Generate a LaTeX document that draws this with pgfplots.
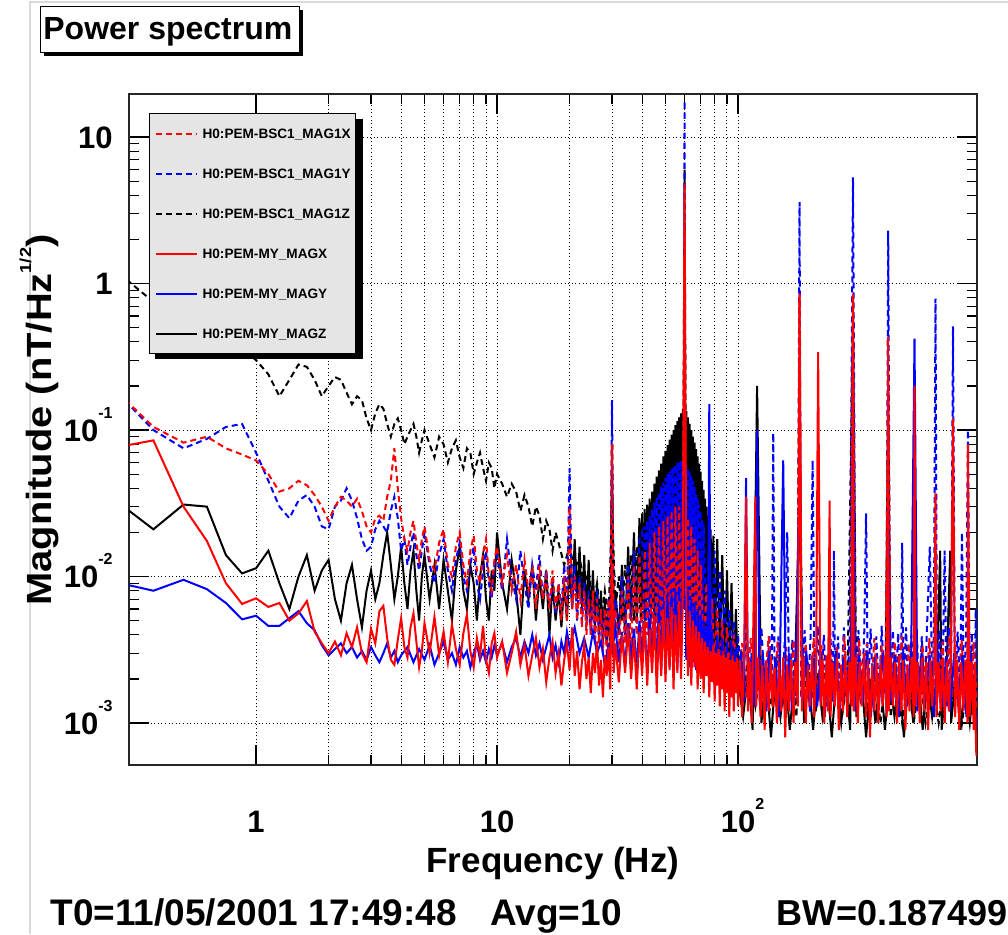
\documentclass[border=0pt]{standalone}
\usepackage{fontspec}
\setmainfont{Liberation Sans}
\usepackage{graphicx}
\usepackage{pgfplots}
\pgfplotsset{compat=1.18}
\usetikzlibrary{shadows}
\newcommand{\sps}[1]{\raisebox{11.5pt}{\fontsize{8}{8}\selectfont #1}}
\begin{document}
\begin{tikzpicture}
\draw[black!15, line width=1.2pt] (15pt,0) -- (15pt,466pt) -- (504pt,466pt);
\node[draw=black, line width=0.7pt, fill=white, drop shadow={shadow xshift=1.6pt, shadow yshift=-1.6pt, fill=black, opacity=1}, minimum width=129.5pt, minimum height=23pt, inner sep=0pt, anchor=north west] at (20pt,464pt) {};
\node[anchor=base west, inner sep=0pt, font=\fontsize{16}{16}\selectfont\bfseries] at (21.5pt,447pt) {Power spectrum};
\begin{axis}[
 at={(64.5pt,84.5pt)}, anchor=south west,
 scale only axis, width=424pt, height=335.5pt,
 xmode=log, ymode=log,
 xmin=0.297, xmax=981, ymin=5.17e-4, ymax=19.66,
 xtick={1,10,100}, xticklabels={1,10,{10\rlap{\sps{2}}}},
 ytick={0.001,0.01,0.1,1,10}, yticklabels={{10\sps{-3}},{10\sps{-2}},{10\sps{-1}},1,10},
 tick align=inside, major tick length=10pt, minor tick length=5pt,
 xmajorgrids, xminorgrids, ymajorgrids,
 grid style={black, line width=0.5pt, dash pattern=on 0.5pt off 1.3pt},
 minor grid style={black, line width=0.5pt, dash pattern=on 0.5pt off 1.3pt},
 axis line style={black!85, line width=0.8pt},
 every tick/.style={black, line width=0.6pt},
 ticklabel style={font=\fontsize{15.5}{15.5}\selectfont\bfseries, inner sep=0pt},
 xticklabel style={anchor=base, yshift=-33.5pt},
 yticklabel style={anchor=east, xshift=-8pt, text height=11pt, text depth=0pt},
 xlabel={Frequency (Hz)},
 ylabel={\scalebox{1.14}[1]{Magnitude (nT/Hz\raisebox{10pt}{\fontsize{8}{8}\selectfont 1/2})}},
 label style={font=\fontsize{17.5}{17.5}\selectfont\bfseries},
 xlabel style={at={(axis description cs:0.5,0)}, anchor=base, yshift=-53.5pt},
 ylabel style={at={(axis description cs:-0.0919,0.514)}, anchor=base},
 legend style={at={(axis description cs:0.0236,0.9717)}, anchor=north west,
  fill=black!10, draw=black, line width=0.6pt,
  font=\fontsize{6.8}{6.8}\selectfont\bfseries,
  inner xsep=2.5pt, inner ysep=0pt, row sep=0pt,
  nodes={inner sep=0pt, text height=12.5pt, text depth=7.5pt},
  /tikz/every odd column/.append style={column sep=2.5pt}},
 legend cell align=left,
 legend image code/.code={\draw[#1] (0pt,0pt) -- (20.5pt,0pt);},
 dsh/.style={line width=1pt, dash pattern=on 3pt off 2pt},
 sld/.style={line width=1pt},
]
\addlegendimage{red, dsh}\addlegendentry{H0:PEM-BSC1\_MAG1X}
\addlegendimage{blue, dsh}\addlegendentry{H0:PEM-BSC1\_MAG1Y}
\addlegendimage{black, dsh}\addlegendentry{H0:PEM-BSC1\_MAG1Z}
\addlegendimage{red, sld}\addlegendentry{H0:PEM-MY\_MAGX}
\addlegendimage{blue, sld}\addlegendentry{H0:PEM-MY\_MAGY}
\addlegendimage{black, sld}\addlegendentry{H0:PEM-MY\_MAGZ}
% black dashed: BSC1 MAG1Z
\addplot[black, dsh, forget plot] coordinates {(0.25,1.3)(0.375,0.75)(0.5,0.55)(0.625,0.5)(0.75,0.42)(0.875,0.36)(1,0.3)(1.125,0.24)(1.25,0.17)(1.375,0.22)(1.5,0.28)(1.625,0.27)(1.75,0.22)(1.875,0.17)(2,0.2)(2.125,0.23)(2.25,0.22)(2.375,0.18)(2.5,0.15)(2.625,0.17)(2.75,0.16)(2.875,0.12)(3,0.1)(3.125,0.13)(3.25,0.15)(3.375,0.14)(3.5,0.11)(3.625,0.09)(3.75,0.11)(3.875,0.12)(4,0.1)(4.125,0.08)(4.25,0.09)(4.375,0.1)(4.5,0.11)(4.625,0.09)(4.75,0.07)(4.875,0.085)(5,0.1)(5.25,0.08)(5.5,0.065)(5.75,0.09)(6,0.08)(6.25,0.06)(6.5,0.075)(6.75,0.085)(7,0.065)(7.25,0.055)(7.5,0.075)(7.75,0.07)(8,0.05)(8.25,0.06)(8.5,0.07)(8.75,0.055)(9,0.045)(9.25,0.06)(9.5,0.055)(9.75,0.04)(10,0.05)(10.5,0.043)(11,0.035)(11.5,0.043)(12,0.038)(12.5,0.028)(13,0.036)(13.5,0.03)(14,0.022)(14.5,0.03)(15,0.026)(15.5,0.018)(16,0.024)(16.5,0.021)(17,0.015)(17.5,0.02)(18,0.017)(19,0.012)(20,0.016)(21,0.011)(22,0.014)(23,0.008)(24,0.011)(25,0.006)(26,0.009)(27,0.005)(28,0.008)(29,0.005)(30,0.03)(31,0.006)(32,0.01)(33,0.005)(34,0.012)(35,0.006)(36,0.014)(37,0.005)(38,0.016)(39,0.006)(40,0.018)(41,0.005)(42,0.02)(43,0.006)(44,0.022)(45,0.005)(46,0.025)(47,0.006)(48,0.028)(49,0.005)(50,0.03)(51,0.006)(52,0.032)(53,0.005)(54,0.035)(55,0.006)(56,0.038)(57,0.005)(58,0.04)(59,0.008)(60,6)(61,0.008)(62,0.04)(63,0.005)(64,0.035)(65,0.006)(66,0.03)(67,0.005)(68,0.025)(69,0.005)(70,0.02)(72,0.004)(74,0.016)(76,0.004)(78,0.012)(80,0.003)(83,0.008)(86,0.003)(89,0.006)(92,0.0025)(95,0.004)(98,0.002)(100,0.003)(105,0.0015)(110,0.0028)(118,0.0013)(125,0.0025)(135,0.0012)(145,0.0026)(155,0.0014)(165,0.0024)(175,0.0011)(180,0.3)(185,0.0013)(195,0.0025)(210,0.0012)(225,0.0024)(240,0.0012)(255,0.0023)(270,0.0011)(285,0.0022)(300,0.6)(310,0.0012)(330,0.0023)(350,0.0011)(370,0.0022)(390,0.001)(410,0.0021)(420,0.2)(430,0.0011)(450,0.0022)(480,0.001)(510,0.002)(540,0.0011)(570,0.0021)(600,0.001)(640,0.002)(680,0.001)(720,0.0021)(760,0.0012)(800,0.002)(850,0.001)(900,0.002)(950,0.0011)(985,0.0015)};
% black solid: MY MAGZ
\addplot[black, sld, forget plot] coordinates {(0.25,0.035)(0.375,0.021)(0.5,0.031)(0.625,0.03)(0.75,0.014)(0.875,0.0105)(1,0.0114)(1.125,0.015)(1.25,0.009)(1.375,0.006)(1.5,0.01)(1.625,0.014)(1.75,0.008)(1.875,0.011)(2,0.013)(2.125,0.007)(2.25,0.005)(2.375,0.009)(2.5,0.012)(2.625,0.007)(2.75,0.0045)(2.875,0.008)(3,0.011)(3.125,0.007)(3.25,0.009)(3.375,0.014)(3.5,0.02)(3.625,0.012)(3.75,0.007)(3.875,0.01)(4,0.016)(4.125,0.009)(4.25,0.006)(4.375,0.011)(4.5,0.015)(4.625,0.008)(4.75,0.005)(4.875,0.01)(5,0.014)(5.25,0.007)(5.5,0.012)(5.75,0.006)(6,0.013)(6.25,0.008)(6.5,0.005)(6.75,0.011)(7,0.016)(7.25,0.008)(7.5,0.006)(7.75,0.012)(8,0.009)(8.25,0.005)(8.5,0.01)(8.75,0.014)(9,0.007)(9.25,0.005)(9.5,0.011)(9.75,0.008)(10,0.02)(10.5,0.009)(11,0.006)(11.5,0.013)(12,0.008)(12.5,0.004)(13,0.011)(13.5,0.007)(14,0.012)(14.5,0.005)(15,0.01)(15.5,0.006)(16,0.011)(16.5,0.004)(17,0.009)(17.5,0.005)(18,0.008)(18.5,0.0045)(19,0.009)(19.5,0.005)(20,0.012)(20.5,0.006)(21,0.018)(21.5,0.007)(22,0.016)(22.5,0.006)(23,0.014)(23.5,0.005)(24,0.013)(24.5,0.005)(25,0.011)(25.5,0.0045)(26,0.009)(26.5,0.004)(27,0.008)(27.5,0.0035)(28,0.007)(28.5,0.0035)(29,0.006)(29.5,0.003)(30,0.08)(30.5,0.004)(31,0.008)(32,0.004)(33,0.012)(34,0.004)(35,0.016)(36,0.005)(37,0.02)(38,0.005)(39,0.025)(39.5,0.005)(40,0.027)(40.5,0.006)(41,0.029)(41.5,0.005)(42,0.031)(42.5,0.007)(43,0.034)(43.5,0.005)(44,0.038)(44.5,0.006)(45,0.043)(45.5,0.005)(46,0.048)(46.5,0.007)(47,0.053)(47.5,0.005)(48,0.059)(48.5,0.006)(49,0.066)(49.5,0.005)(50,0.072)(50.5,0.007)(51,0.079)(51.5,0.005)(52,0.086)(52.5,0.006)(53,0.093)(53.5,0.004)(54,0.1)(54.5,0.006)(55,0.108)(55.5,0.005)(56,0.115)(56.5,0.007)(57,0.122)(57.5,0.005)(58,0.13)(58.5,0.006)(59,0.14)(59.5,0.01)(60,0.15)(60.5,0.01)(61,0.135)(61.5,0.005)(62,0.122)(62.5,0.006)(63,0.11)(63.5,0.004)(64,0.1)(64.5,0.006)(65,0.09)(65.5,0.005)(66,0.082)(66.5,0.006)(67,0.074)(67.5,0.004)(68,0.066)(68.5,0.005)(69,0.059)(69.5,0.004)(70,0.052)(70.5,0.005)(71,0.045)(71.5,0.004)(72,0.039)(72.5,0.004)(73,0.034)(73.5,0.003)(74,0.03)(74.5,0.004)(75,0.026)(75.5,0.003)(76,0.024)(76.5,0.003)(77,0.021)(78,0.003)(79,0.019)(80,0.003)(82,0.018)(84,0.003)(86,0.014)(88,0.0025)(90,0.011)(92,0.0025)(94,0.009)(96,0.002)(98,0.006)(100,0.002)(105,0.0011)(110,0.0022)(115,0.0009)(120,0.2)(125,0.001)(131,0.0021)(137,0.0008)(143,0.002)(150,0.0011)(157,0.0022)(164,0.0009)(172,0.0021)(180,0.03)(188,0.001)(196,0.002)(205,0.0009)(214,0.0022)(224,0.0011)(234,0.0019)(245,0.0008)(256,0.0021)(268,0.001)(280,0.002)(292,0.0009)(300,0.03)(310,0.0011)(325,0.0021)(340,0.0008)(356,0.002)(372,0.001)(389,0.0022)(407,0.0009)(426,0.002)(446,0.0011)(466,0.0021)(488,0.0008)(510,0.002)(534,0.001)(558,0.0022)(584,0.0009)(611,0.002)(639,0.0011)(668,0.0021)(690,0.015)(700,0.0009)(732,0.002)(760,0.015)(766,0.001)(801,0.0021)(838,0.0009)(876,0.002)(916,0.001)(958,0.0021)(985,0.0012)};
% blue dashed: BSC1 MAG1Y
\addplot[blue, dsh, forget plot] coordinates {(0.25,0.2)(0.375,0.1)(0.5,0.075)(0.625,0.087)(0.75,0.105)(0.875,0.11)(1,0.07)(1.125,0.045)(1.25,0.03)(1.375,0.025)(1.5,0.033)(1.625,0.036)(1.75,0.03)(1.875,0.022)(2,0.021)(2.125,0.03)(2.25,0.033)(2.375,0.04)(2.5,0.033)(2.625,0.025)(2.75,0.018)(2.875,0.015)(3,0.016)(3.125,0.021)(3.25,0.024)(3.375,0.022)(3.5,0.02)(3.625,0.028)(3.75,0.035)(3.875,0.025)(4,0.015)(4.125,0.018)(4.25,0.012)(4.375,0.016)(4.5,0.02)(4.625,0.014)(4.75,0.011)(4.875,0.015)(5,0.02)(5.25,0.012)(5.5,0.009)(5.75,0.014)(6,0.018)(6.25,0.011)(6.5,0.008)(6.75,0.013)(7,0.017)(7.25,0.01)(7.5,0.008)(7.75,0.012)(8,0.016)(8.25,0.009)(8.5,0.007)(8.75,0.011)(9,0.015)(9.25,0.009)(9.5,0.007)(9.75,0.012)(10,0.014)(10.5,0.008)(11,0.018)(11.5,0.01)(12,0.007)(12.5,0.015)(13,0.009)(13.5,0.006)(14,0.012)(14.5,0.008)(15,0.014)(15.5,0.007)(16,0.011)(16.5,0.006)(17,0.01)(17.5,0.0055)(18,0.009)(18.5,0.006)(19,0.012)(19.5,0.006)(20,0.055)(20.5,0.006)(21,0.012)(21.5,0.005)(22,0.01)(22.5,0.005)(23,0.009)(23.5,0.0045)(24,0.008)(24.5,0.004)(25,0.007)(25.5,0.004)(26,0.008)(26.5,0.0035)(27,0.006)(27.5,0.0035)(28,0.006)(28.5,0.0035)(29,0.007)(29.5,0.004)(30,0.16)(30.5,0.004)(31,0.007)(32,0.004)(33,0.01)(34,0.004)(35,0.012)(36,0.005)(37,0.015)(38,0.004)(39,0.018)(40,0.02)(40.5,0.004)(41,0.022)(41.5,0.005)(42,0.024)(42.5,0.004)(43,0.026)(43.5,0.005)(44,0.029)(44.5,0.004)(45,0.032)(45.5,0.005)(46,0.035)(46.5,0.004)(47,0.038)(47.5,0.005)(48,0.041)(48.5,0.004)(49,0.044)(49.5,0.005)(50,0.047)(50.5,0.004)(51,0.05)(51.5,0.005)(52,0.052)(52.5,0.004)(53,0.054)(53.5,0.005)(54,0.056)(54.5,0.004)(55,0.058)(55.5,0.005)(56,0.06)(56.5,0.004)(57,0.061)(57.5,0.005)(58,0.062)(58.5,0.004)(59,0.06)(59.5,0.006)(60,17.7)(60.5,0.006)(61,0.058)(61.5,0.004)(62,0.055)(62.5,0.005)(63,0.052)(63.5,0.004)(64,0.048)(64.5,0.005)(65,0.045)(65.5,0.004)(66,0.041)(66.5,0.005)(67,0.037)(67.5,0.004)(68,0.034)(68.5,0.005)(69,0.031)(69.5,0.004)(70,0.028)(70.5,0.004)(71,0.025)(71.5,0.004)(72,0.023)(74,0.004)(76,0.02)(78,0.0035)(80,0.015)(82,0.003)(84,0.011)(86,0.003)(88,0.008)(90,0.0028)(92,0.006)(94,0.0025)(96,0.005)(98,0.0022)(100,0.004)(104,0.0016)(108,0.0042)(112,0.0015)(116,0.0038)(120,0.0017)(125,0.0045)(130,0.0014)(135,0.004)(138,0.0016)(140,0.095)(142,0.0015)(147,0.0039)(152,0.0013)(157,0.0044)(160,0.02)(163,0.0016)(168,0.0037)(173,0.0014)(177,0.0041)(180,3.6)(183,0.0015)(189,0.0043)(195,0.0016)(200,0.0038)(204,0.062)(208,0.0014)(214,0.0046)(220,0.0015)(227,0.004)(234,0.0013)(241,0.0044)(248,0.0016)(250,0.015)(253,0.0015)(260,0.0039)(267,0.0014)(275,0.0045)(283,0.0016)(291,0.004)(300,5.3)(308,0.0015)(316,0.0043)(325,0.0013)(334,0.0041)(340,0.027)(346,0.0016)(355,0.0044)(365,0.0014)(375,0.0039)(385,0.0015)(395,0.0046)(405,0.0016)(413,0.004)(420,2.3)(428,0.0014)(439,0.0043)(450,0.0015)(462,0.0041)(474,0.0013)(480,0.017)(486,0.0016)(498,0.0045)(511,0.0014)(524,0.004)(537,0.0016)(551,0.0044)(565,0.0015)(579,0.0039)(594,0.0013)(609,0.0047)(625,0.016)(641,0.0015)(650,0.0042)(660,0.79)(670,0.0014)(687,0.0043)(705,0.0016)(720,0.015)(735,0.0013)(750,0.0045)(765,0.0015)(780,0.51)(795,0.0014)(815,0.0042)(835,0.0016)(850,0.02)(865,0.0013)(885,0.0044)(900,0.1)(915,0.0015)(935,0.0041)(955,0.0012)(970,0.006)(985,0.0011)};
% red dashed: BSC1 MAG1X
\addplot[red, dsh, forget plot] coordinates {(0.25,0.2)(0.375,0.105)(0.5,0.082)(0.625,0.09)(0.75,0.075)(0.875,0.068)(1,0.062)(1.125,0.05)(1.25,0.038)(1.375,0.04)(1.5,0.045)(1.625,0.042)(1.75,0.036)(1.875,0.03)(2,0.024)(2.125,0.03)(2.25,0.035)(2.375,0.033)(2.5,0.03)(2.625,0.034)(2.75,0.028)(2.875,0.022)(3,0.02)(3.125,0.025)(3.25,0.026)(3.375,0.024)(3.5,0.035)(3.625,0.045)(3.75,0.075)(3.875,0.04)(4,0.025)(4.125,0.018)(4.25,0.015)(4.375,0.02)(4.5,0.024)(4.625,0.017)(4.75,0.013)(4.875,0.018)(5,0.022)(5.25,0.013)(5.5,0.011)(5.75,0.017)(6,0.021)(6.25,0.012)(6.5,0.01)(6.75,0.016)(7,0.02)(7.25,0.012)(7.5,0.009)(7.75,0.015)(8,0.019)(8.25,0.011)(8.5,0.009)(8.75,0.014)(9,0.018)(9.25,0.01)(9.5,0.008)(9.75,0.013)(10,0.016)(10.5,0.009)(11,0.014)(11.5,0.008)(12,0.012)(12.5,0.007)(13,0.013)(13.5,0.008)(14,0.011)(14.5,0.006)(15,0.012)(15.5,0.007)(16,0.01)(16.5,0.006)(17,0.011)(17.5,0.006)(18,0.009)(18.5,0.005)(19,0.01)(19.5,0.005)(20,0.03)(20.5,0.006)(21,0.01)(21.5,0.005)(22,0.009)(22.5,0.0045)(23,0.008)(23.5,0.004)(24,0.007)(24.5,0.004)(25,0.008)(25.5,0.0035)(26,0.007)(26.5,0.0035)(27,0.006)(27.5,0.003)(28,0.006)(28.5,0.003)(29,0.007)(29.5,0.0035)(30,0.08)(30.5,0.004)(31,0.006)(32,0.003)(33,0.008)(34,0.0035)(35,0.01)(36,0.003)(37,0.012)(38,0.004)(39,0.014)(40,0.003)(41,0.015)(42,0.004)(43,0.017)(44,0.003)(45,0.02)(46,0.004)(47,0.022)(48,0.003)(49,0.024)(50,0.004)(51,0.026)(52,0.003)(53,0.028)(54,0.004)(55,0.03)(56,0.003)(57,0.03)(58,0.004)(59,0.03)(60,0.9)(61,0.004)(62,0.025)(63,0.003)(64,0.022)(65,0.004)(66,0.018)(67,0.003)(68,0.015)(69,0.003)(70,0.012)(72,0.003)(74,0.009)(76,0.0025)(78,0.007)(80,0.0025)(82,0.006)(84,0.002)(86,0.005)(88,0.002)(90,0.0045)(93,0.002)(96,0.004)(100,0.002)(104,0.0035)(108,0.0015)(113,0.0038)(118,0.0014)(123,0.0034)(128,0.0016)(134,0.0039)(140,0.0013)(146,0.0036)(152,0.0015)(158,0.0033)(164,0.0014)(170,0.0037)(176,0.0016)(180,0.85)(184,0.0015)(191,0.0035)(198,0.0013)(206,0.0038)(214,0.0015)(222,0.0034)(230,0.0014)(239,0.0036)(248,0.0016)(257,0.0033)(266,0.0013)(276,0.0039)(286,0.0015)(294,0.0034)(300,0.85)(306,0.0014)(318,0.0037)(330,0.0016)(342,0.0035)(355,0.0013)(368,0.0038)(381,0.0015)(395,0.0034)(408,0.0016)(420,0.2)(432,0.0014)(447,0.0036)(462,0.0015)(478,0.0039)(494,0.0013)(511,0.0035)(528,0.0016)(546,0.0037)(564,0.0014)(583,0.0034)(602,0.0015)(622,0.0038)(642,0.0013)(663,0.0035)(684,0.0016)(706,0.0036)(728,0.0014)(751,0.0039)(774,0.0015)(798,0.0034)(822,0.0013)(847,0.0037)(872,0.0015)(898,0.0035)(924,0.0014)(950,0.0036)(985,0.0012)};
% blue solid: MY MAGY
\addplot[blue, sld, forget plot] coordinates {(0.25,0.0093)(0.375,0.008)(0.5,0.0095)(0.625,0.0082)(0.75,0.0066)(0.875,0.0051)(1,0.0054)(1.125,0.0046)(1.25,0.0046)(1.375,0.0052)(1.5,0.0058)(1.625,0.0048)(1.75,0.0043)(1.875,0.0034)(2,0.0029)(2.125,0.0032)(2.25,0.0035)(2.375,0.003)(2.5,0.0033)(2.625,0.0028)(2.75,0.0031)(2.875,0.0027)(3,0.0033)(3.125,0.0029)(3.25,0.0026)(3.375,0.003)(3.5,0.0035)(3.625,0.0028)(3.75,0.0031)(3.875,0.0026)(4,0.0029)(4.25,0.0033)(4.5,0.0026)(4.75,0.0032)(5,0.0027)(5.25,0.0034)(5.5,0.0025)(5.75,0.003)(6,0.0036)(6.25,0.0027)(6.5,0.003)(6.75,0.0025)(7,0.0033)(7.25,0.0028)(7.5,0.0031)(7.75,0.0024)(8,0.003)(8.25,0.0035)(8.5,0.0027)(8.75,0.0031)(9,0.0026)(9.25,0.0032)(9.5,0.0028)(9.75,0.0034)(10,0.0029)(10.5,0.0035)(11,0.0026)(11.5,0.0033)(12,0.0038)(12.5,0.0028)(13,0.0036)(13.5,0.003)(14,0.004)(14.5,0.0029)(15,0.0035)(15.5,0.0027)(16,0.0033)(16.5,0.004)(17,0.0028)(17.5,0.0034)(18,0.0026)(18.5,0.0036)(19,0.003)(19.5,0.0042)(20,0.0033)(21,0.0045)(22,0.003)(23,0.0038)(24,0.0028)(25,0.0042)(26,0.003)(27,0.0036)(28,0.0025)(29,0.0034)(30,0.003)(31,0.0045)(32,0.0026)(33,0.0042)(34,0.0024)(35,0.0048)(36,0.0027)(37,0.0044)(38,0.0023)(39,0.005)(40,0.0026)(41,0.0046)(42,0.0022)(43,0.0052)(44,0.0025)(45,0.0055)(46,0.0024)(47,0.006)(48,0.0023)(49,0.0065)(50,0.0026)(51,0.007)(52,0.0024)(53,0.0075)(54,0.0025)(55,0.008)(56,0.0023)(57,0.0085)(58,0.0026)(59,0.009)(60,0.05)(61,0.0027)(62,0.008)(63,0.0024)(64,0.007)(65,0.0026)(66,0.0065)(67,0.0023)(68,0.006)(69,0.0025)(70,0.0055)(71,0.0022)(72,0.005)(73,0.0024)(74,0.0045)(75,0.0021)(76,0.15)(77,0.0023)(78,0.0042)(80,0.002)(82,0.004)(84,0.0019)(86,0.0038)(88,0.0018)(90,0.0036)(92,0.0017)(94,0.0035)(96,0.0018)(98,0.0033)(100,0.0017)(103,0.0031)(106,0.0014)(108,0.047)(110,0.0015)(114,0.003)(117,0.0013)(120,0.1)(123,0.0014)(127,0.0029)(131,0.0012)(135,0.0031)(139,0.0014)(143,0.0028)(148,0.0011)(154,0.062)(158,0.0013)(163,0.003)(168,0.0012)(174,0.0029)(180,0.05)(186,0.0014)(192,0.0031)(199,0.0012)(206,0.0028)(213,0.0013)(221,0.003)(229,0.0011)(237,0.0029)(246,0.0014)(255,0.0031)(264,0.0012)(274,0.0028)(284,0.0013)(294,0.003)(300,0.05)(306,0.0012)(318,0.0029)(330,0.0014)(343,0.0031)(356,0.0011)(370,0.0028)(384,0.0013)(399,0.003)(414,0.0012)(420,0.03)(430,0.0014)(447,0.0029)(465,0.0011)(484,0.0031)(503,0.0013)(523,0.0028)(540,0.42)(555,0.0012)(577,0.003)(600,0.0014)(624,0.0029)(649,0.0011)(675,0.0031)(702,0.0013)(730,0.0028)(759,0.0012)(789,0.003)(820,0.0014)(853,0.0029)(887,0.0011)(922,0.0031)(958,0.0013)(985,0.0009)};
% red solid: MY MAGX
\addplot[red, sld, forget plot] coordinates {(0.25,0.075)(0.375,0.085)(0.5,0.03)(0.625,0.0175)(0.75,0.009)(0.875,0.0065)(1,0.0071)(1.125,0.0062)(1.25,0.0066)(1.375,0.005)(1.5,0.0056)(1.625,0.0068)(1.75,0.0042)(1.875,0.0035)(2,0.003)(2.125,0.0036)(2.25,0.0029)(2.375,0.0041)(2.5,0.0033)(2.625,0.0045)(2.75,0.003)(2.875,0.0026)(3,0.0044)(3.125,0.0035)(3.25,0.0058)(3.375,0.0063)(3.5,0.0038)(3.625,0.0027)(3.75,0.0025)(3.875,0.0037)(4,0.0052)(4.125,0.0033)(4.25,0.0028)(4.375,0.0045)(4.5,0.0056)(4.625,0.0036)(4.75,0.0024)(4.875,0.0031)(5,0.0048)(5.25,0.003)(5.5,0.0053)(5.75,0.0029)(6,0.0042)(6.25,0.0026)(6.5,0.0047)(6.75,0.0032)(7,0.0025)(7.25,0.0041)(7.5,0.0055)(7.75,0.0031)(8,0.0024)(8.25,0.0038)(8.5,0.0029)(8.75,0.0046)(9,0.0027)(9.25,0.0022)(9.5,0.0035)(9.75,0.0041)(10,0.0028)(10.5,0.0036)(11,0.0022)(11.5,0.003)(12,0.0042)(12.5,0.0025)(13,0.0034)(13.5,0.0021)(14,0.0029)(14.5,0.0038)(15,0.0024)(15.5,0.0032)(16,0.0019)(16.5,0.0028)(17,0.0036)(17.5,0.0022)(18,0.003)(18.5,0.0018)(19,0.0027)(19.5,0.0035)(20,0.0023)(20.5,0.0045)(21,0.0021)(21.5,0.0031)(22,0.0017)(22.5,0.0026)(23,0.0034)(23.5,0.002)(24,0.0028)(24.5,0.0016)(25,0.003)(25.5,0.0022)(26,0.0036)(26.5,0.0018)(27,0.0027)(27.5,0.0015)(28,0.0029)(28.5,0.0021)(29,0.0033)(29.5,0.0017)(30,0.012)(30.5,0.0022)(31,0.0035)(32,0.0019)(33,0.004)(34,0.0022)(35,0.0045)(36,0.002)(37,0.0038)(38,0.0017)(39,0.0042)(40,0.0021)(41,0.005)(42,0.0018)(43,0.0044)(44,0.0022)(45,0.0055)(46,0.0016)(47,0.0048)(48,0.0021)(49,0.006)(50,0.0019)(51,0.0052)(52,0.0023)(53,0.0062)(54,0.0017)(55,0.0055)(56,0.0022)(57,0.0068)(58,0.002)(59,0.0075)(60,4.8)(61,0.0065)(62,0.0021)(63,0.0058)(64,0.0018)(65,0.005)(66,0.0024)(67,0.0046)(68,0.0017)(69,0.0042)(70,0.002)(71,0.0038)(72,0.0016)(73,0.0036)(74,0.0021)(75,0.0033)(76,0.0015)(77,0.0031)(78,0.0019)(79,0.0034)(80,0.0014)(81,0.003)(82,0.0018)(83,0.0032)(84,0.0013)(85,0.0029)(86,0.0017)(87,0.0031)(88,0.0012)(89,0.0028)(90,0.0016)(91,0.003)(92,0.0011)(93,0.0027)(94,0.0015)(95,0.0029)(96,0.0012)(97,0.0026)(98,0.0016)(99,0.0028)(100,0.0013)(102,0.0027)(104,0.0011)(106,0.0029)(108,0.035)(110,0.0012)(112,0.0026)(114,0.001)(118,0.035)(119,0.0013)(121,0.0028)(124,0.0011)(126,0.0025)(129,0.0009)(131,0.0027)(134,0.0012)(137,0.0029)(139,0.0013)(142,0.0024)(145,0.001)(148,0.0026)(151,0.0012)(154,0.0028)(157,0.0008)(160,0.0025)(163,0.0012)(166,0.0027)(170,0.001)(173,0.0026)(177,0.0013)(180,0.85)(184,0.0012)(187,0.0028)(191,0.001)(195,0.0025)(199,0.0013)(203,0.0029)(207,0.0011)(211,0.0026)(215,0.34)(220,0.0013)(224,0.0027)(228,0.001)(233,0.0029)(236,0.0012)(240,0.033)(242,0.0011)(247,0.0026)(252,0.0013)(257,0.0028)(262,0.0009)(268,0.0025)(273,0.0012)(278,0.0029)(284,0.0011)(290,0.0026)(296,0.0013)(300,0.83)(302,0.0012)(308,0.0028)(314,0.001)(320,0.0026)(326,0.0013)(333,0.003)(340,0.0011)(346,0.0027)(353,0.0008)(360,0.0025)(368,0.0012)(375,0.0028)(382,0.001)(390,0.0026)(398,0.0013)(406,0.0029)(414,0.0011)(420,0.43)(422,0.0012)(431,0.0028)(439,0.0013)(448,0.0026)(457,0.001)(466,0.0029)(476,0.0012)(485,0.0027)(495,0.0009)(505,0.0025)(515,0.0012)(525,0.0028)(536,0.0011)(540,0.2)(546,0.0013)(557,0.0026)(568,0.001)(580,0.0028)(591,0.0012)(603,0.0026)(615,0.0009)(628,0.0027)(640,0.0013)(653,0.0029)(660,0.037)(666,0.0011)(679,0.0026)(693,0.0012)(707,0.0028)(721,0.001)(735,0.0026)(750,0.0012)(765,0.0028)(780,0.12)(796,0.0011)(812,0.0027)(828,0.0009)(845,0.0026)(862,0.0012)(879,0.0027)(896,0.001)(900,0.08)(914,0.0011)(933,0.0026)(951,0.0009)(960,0.0024)(970,0.0008)(975,0.0006)};
% legend shadow (drawn before the legend box)
\fill[black] (axis description cs:0.0306,0.6051) rectangle (axis description cs:0.2756,0.9627);
\end{axis}
\node[anchor=base west, inner sep=0pt, font=\fontsize{18.5}{18.5}\selectfont\bfseries] at (25pt,4.5pt) {T0=11/05/2001 17:49:48};
\node[anchor=base west, inner sep=0pt, font=\fontsize{18.5}{18.5}\selectfont\bfseries] at (245pt,4.5pt) {Avg=10};
\node[anchor=base west, inner sep=0pt, font=\fontsize{18}{18}\selectfont\bfseries] at (388pt,4.5pt) {BW=0.187499};
\pgfresetboundingbox
\path[use as bounding box] (0,0) rectangle (504pt,467pt);
\end{tikzpicture}
\end{document}
